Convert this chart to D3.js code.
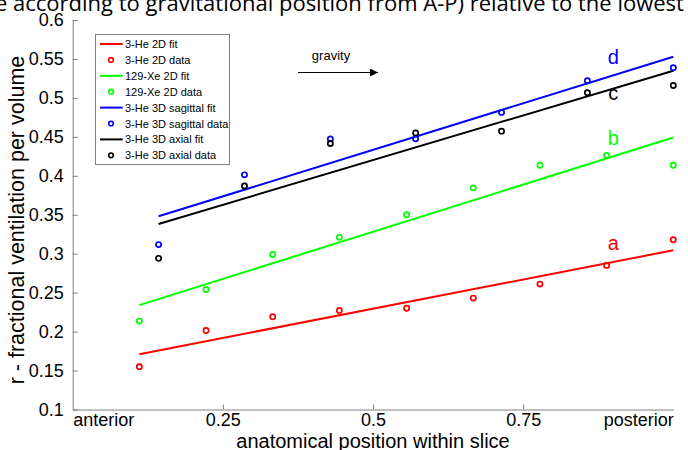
<!DOCTYPE html>
<html>
<head>
<meta charset="utf-8">
<script src="https://cdn.jsdelivr.net/npm/d3@7"></script>
<style>
  body { margin: 0; background: #fff; }
  svg { display: block; font-family: Arial, "Liberation Sans", sans-serif; }
</style>
</head>
<body>
<div id="chart"></div>
<script>

// chart size and plot area
const width = 688;
const height = 450;
const margin = {left: 72.7, right: 14.7, top: 20, bottom: 40.5};

// positions along the slice (0 = anterior, 1 = posterior)
const pos2D = [0.111, 0.222, 0.333, 0.444, 0.556, 0.667, 0.778, 0.889, 1.0];
const pos3D = [0.143, 0.286, 0.429, 0.571, 0.714, 0.857, 1.0];

// measured fractional ventilation
const he2D = [0.155, 0.2015, 0.219, 0.227, 0.230, 0.243, 0.261, 0.285, 0.318];
const xe2D = [0.2135, 0.254, 0.299, 0.321, 0.350, 0.3845, 0.4135, 0.426, 0.4135];
const he3DSag = [0.3117, 0.4012, 0.4474, 0.4475, 0.4814, 0.522, 0.5387];
const he3DAx = [0.294, 0.387, 0.4415, 0.4551, 0.4573, 0.5066, 0.516];

// linear fits, value at first and last position
const he2DFit = [0.171, 0.3044];
const xe2DFit = [0.234, 0.4492];
const he3DSagFit = [0.348, 0.5528];
const he3DAxFit = [0.3382, 0.5349];

// curve letters a-d (baseline value)
const curveLetters = ["a", "b", "d", "c"];
const curveLetterY = [0.3044, 0.4393, 0.5434, 0.497];

// axis ticks
const xTicks = [0, 0.25, 0.5, 0.75, 1];
const xTickLabels = ["anterior", "0.25", "0.5", "0.75", "posterior"];
const yTicks = [0.1, 0.15, 0.2, 0.25, 0.3, 0.35, 0.4, 0.45, 0.5, 0.55, 0.6];

const series = [
  {color: "#ff0000", x: pos2D, y: he2D, fit: he2DFit,
   fitName: "3-He 2D  fit", dataName: "3-He 2D data"},
  {color: "#00ff00", x: pos2D, y: xe2D, fit: xe2DFit,
   fitName: "129-Xe 2D  fit", dataName: "129-Xe 2D data"},
  {color: "#0000ff", x: pos3D, y: he3DSag, fit: he3DSagFit,
   fitName: "3-He 3D sagittal fit", dataName: "3-He 3D sagittal data"},
  {color: "#000000", x: pos3D, y: he3DAx, fit: he3DAxFit,
   fitName: "3-He 3D axial fit", dataName: "3-He 3D axial data"}
];

const svg = d3.select("#chart")
  .append("svg")
  .attr("width", width)
  .attr("height", height);

svg.append("rect").attr("width", width).attr("height", height).attr("fill", "#fff");

// scales
const xScale = d3.scaleLinear()
  .domain([0, 1])
  .range([margin.left, width - margin.right]);

const yScale = d3.scaleLinear()
  .domain([0.1, 0.6])
  .range([height - margin.bottom, margin.top]);

// title text cut off at the top of the figure
svg.append("text")
  .attr("x", -5)
  .attr("y", 11)
  .attr("font-family", "'Open Sans', sans-serif")
  .attr("font-size", "22px")
  .attr("fill", "#000")
  .text("e according to gravitational position from A-P) relative to the lowest");

// y axis (ticks inside)
const yAxis = svg.append("g")
  .attr("transform", `translate(${margin.left},0)`)
  .call(d3.axisLeft(yScale).tickValues(yTicks).tickSizeInner(-5).tickSizeOuter(0)
        .tickPadding(9).tickFormat(d => String(+d.toFixed(2))));
yAxis.attr("font-size", "18px").attr("font-family", "Arial, 'Liberation Sans', sans-serif");
yAxis.selectAll("line, path").attr("stroke", "#808080");
yAxis.selectAll("text").attr("fill", "#000");

// x axis
const xAxis = svg.append("g")
  .attr("transform", `translate(0,${height - margin.bottom})`)
  .call(d3.axisBottom(xScale).tickValues(xTicks).tickSizeInner(-5).tickSizeOuter(0)
        .tickPadding(4).tickFormat((d, i) => xTickLabels[i]));
xAxis.attr("font-size", "18px").attr("font-family", "Arial, 'Liberation Sans', sans-serif");
xAxis.selectAll("line, path").attr("stroke", "#808080");
xAxis.selectAll("text").attr("fill", "#000");
xAxis.selectAll(".tick").filter(d => d === 0 || d === 1).select("line").remove();
xAxis.selectAll(".tick").filter(d => d === 0).select("text").attr("text-anchor", "start");
xAxis.selectAll(".tick").filter(d => d === 1).select("text").attr("text-anchor", "end");

// axis titles
svg.append("text")
  .attr("x", xScale(0.5))
  .attr("y", 448)
  .attr("text-anchor", "middle")
  .attr("font-size", "20px")
  .text("anatomical position within slice");

svg.append("text")
  .attr("transform", `translate(24,220) rotate(-90)`)
  .attr("text-anchor", "middle")
  .attr("font-size", "21.5px")
  .text("r - fractional ventilation per volume");

// fit lines
series.forEach(s => {
  svg.append("line")
    .attr("x1", xScale(s.x[0]))
    .attr("y1", yScale(s.fit[0]))
    .attr("x2", xScale(s.x[s.x.length - 1]))
    .attr("y2", yScale(s.fit[1]))
    .attr("stroke", s.color)
    .attr("stroke-width", 2);
});

// data points
series.forEach(s => {
  svg.selectAll(null)
    .data(s.y)
    .enter()
    .append("circle")
      .attr("cx", (d, i) => xScale(s.x[i]))
      .attr("cy", d => yScale(d))
      .attr("r", 2.6)
      .attr("fill", "none")
      .attr("stroke", s.color)
      .attr("stroke-width", 1.7);
});

// curve letters
series.forEach((s, i) => {
  svg.append("text")
    .attr("x", xScale(0.9))
    .attr("y", yScale(curveLetterY[i]))
    .attr("text-anchor", "middle")
    .attr("font-size", "20px")
    .attr("fill", s.color)
    .text(curveLetters[i]);
});

// gravity arrow
svg.append("text")
  .attr("x", 331)
  .attr("y", 60)
  .attr("text-anchor", "middle")
  .attr("font-size", "13px")
  .attr("font-family", "'Liberation Sans Narrow', Arial, sans-serif")
  .text("gravity");

svg.append("defs").append("marker")
  .attr("id", "arrow")
  .attr("viewBox", "0 0 10 10")
  .attr("refX", 10).attr("refY", 5)
  .attr("markerWidth", 8).attr("markerHeight", 8)
  .attr("markerUnits", "userSpaceOnUse")
  .attr("orient", "auto")
  .append("path")
    .attr("d", "M0,0 L10,5 L0,10 z")
    .attr("fill", "#000");

svg.append("line")
  .attr("x1", 298).attr("y1", 72.5)
  .attr("x2", 378).attr("y2", 72.5)
  .attr("stroke", "#000")
  .attr("stroke-width", 1)
  .attr("marker-end", "url(#arrow)");

// legend
const legend = svg.append("g");
legend.append("rect")
  .attr("x", 95.5).attr("y", 34.5)
  .attr("width", 134).attr("height", 130)
  .attr("fill", "#fff")
  .attr("stroke", "#808080")
  .attr("stroke-width", 1);

const legendRows = [];
series.forEach(s => {
  legendRows.push({kind: "line", color: s.color, text: s.fitName});
  legendRows.push({kind: "dot", color: s.color, text: s.dataName});
});

const rows = legend.selectAll(".row")
  .data(legendRows)
  .enter()
  .append("g")
    .attr("class", "row")
    .attr("transform", (d, i) => `translate(0,${44 + i * 15.9})`);

rows.filter(d => d.kind === "line").append("line")
  .attr("x1", 100).attr("x2", 122.7)
  .attr("stroke", d => d.color)
  .attr("stroke-width", 2);

rows.filter(d => d.kind === "dot").append("circle")
  .attr("cx", 111).attr("r", 2.3)
  .attr("fill", "none")
  .attr("stroke", d => d.color)
  .attr("stroke-width", 1.6);

rows.append("text")
  .attr("x", 125)
  .attr("y", 4)
  .attr("font-size", "11px")
  .text(d => d.text);

</script>
</body>
</html>
